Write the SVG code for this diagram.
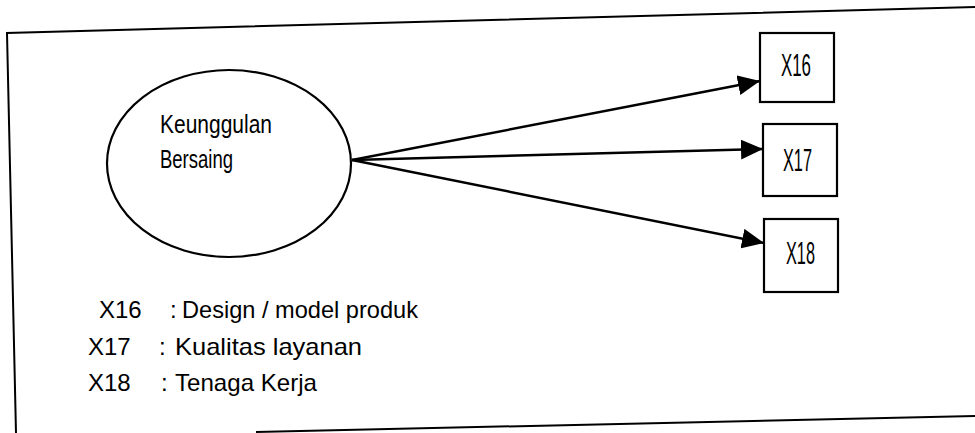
<svg xmlns="http://www.w3.org/2000/svg" width="975" height="433" viewBox="0 0 975 433">
  <defs>
    <marker id="arrowhead" markerWidth="22" markerHeight="20" refX="22" refY="10" orient="auto" markerUnits="userSpaceOnUse">
      <path d="M0,0 L22,10 L0,20 Z" fill="#000"/>
    </marker>
  </defs>
  <style>
    .frame { fill: none; stroke: #000; stroke-width: 2; }
    .node { fill: #fff; stroke: #000; stroke-width: 2.2; }
    .edge { fill: none; stroke: #000; stroke-width: 2.4; marker-end: url(#arrowhead); }
    .narrow { font-family: "Liberation Sans", "DejaVu Sans", sans-serif; fill: #000; }
    .legend { font-family: "Liberation Sans", Arial, sans-serif; font-size: 24px; fill: #000; }
  </style>
  <rect width="975" height="433" fill="#fff"/>

  <!-- outer frame (slightly skewed) -->
  <g id="frame">
    <path class="frame" d="M975,7 L7,33 L16,433"/>
    <path class="frame" d="M256,432 L975,416"/>
  </g>

  <g id="connectors">
    <line class="edge" x1="352" y1="160" x2="760" y2="81"/>
    <line class="edge" x1="352" y1="160" x2="763" y2="149"/>
    <line class="edge" x1="352" y1="160" x2="764" y2="243"/>
  </g>

  <g id="keunggulan-bersaing">
    <ellipse class="node" cx="229" cy="163.5" rx="122" ry="93.5"/>
    <text class="narrow" x="160" y="133" font-size="25" textLength="112" lengthAdjust="spacingAndGlyphs">Keunggulan</text>
    <text class="narrow" x="160" y="168" font-size="25" textLength="73" lengthAdjust="spacingAndGlyphs">Bersaing</text>
  </g>

  <g id="x16">
    <rect class="node" x="760" y="33" width="74" height="69"/>
    <text class="narrow" x="781" y="76" font-size="31" textLength="30" lengthAdjust="spacingAndGlyphs">X16</text>
  </g>
  <g id="x17">
    <rect class="node" x="763" y="124" width="74" height="72"/>
    <text class="narrow" x="783" y="171" font-size="31" textLength="29" lengthAdjust="spacingAndGlyphs">X17</text>
  </g>
  <g id="x18">
    <rect class="node" x="764" y="219" width="74" height="73"/>
    <text class="narrow" x="786" y="264" font-size="31" textLength="29" lengthAdjust="spacingAndGlyphs">X18</text>
  </g>

  <g id="legend">
    <text class="legend" x="99" y="318">X16</text>
    <text class="legend" x="170" y="318">:</text>
    <text class="legend" x="182" y="318" textLength="236" lengthAdjust="spacingAndGlyphs">Design / model produk</text>
    <text class="legend" x="88" y="355">X17</text>
    <text class="legend" x="159" y="355">:</text>
    <text class="legend" x="175" y="355" textLength="187" lengthAdjust="spacingAndGlyphs">Kualitas layanan</text>
    <text class="legend" x="88" y="391">X18</text>
    <text class="legend" x="161" y="391">:</text>
    <text class="legend" x="175" y="391" textLength="142" lengthAdjust="spacingAndGlyphs">Tenaga Kerja</text>
  </g>
</svg>
